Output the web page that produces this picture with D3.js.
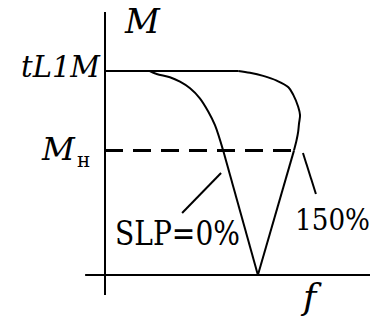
<!DOCTYPE html>
<html>
<head>
  <meta charset="UTF-8">
  <style>
    body { margin: 0; background: #fff; }
    svg { display: block; }
  </style>
</head>
<body>
<svg></svg>
<script src="https://cdn.jsdelivr.net/npm/d3@7"></script>
<script>

let width = 384, height = 322;
const serif = "'DejaVu Serif', 'Liberation Serif', serif";

// levels (normalised units, 0..100)
const tLimLevel = 77.6;
const ratedLevel = 47.3;
const vertexF = 57.7;

// SLP = 0% curve: rounded knee then straight leg down to the vertex
const slp0Curve = [
  [16.7, 77.6], [19.5, 76.4], [24.5, 75.2], [28.3, 73.5], [32.1, 71.0],
  [35.8, 67.2], [39.0, 62.1], [41.5, 57.0], [44.6, ratedLevel]
];
// SLP = 150% curve
const slp150Curve = [
  [50.3, 77.6], [54.7, 76.9], [59.7, 75.7], [64.8, 73.9], [69.2, 71.4],
  [71.1, 68.4], [72.9, 64.0], [73.6, 60.8], [73.2, 57.5], [72.9, 54.5],
  [72.3, 51.3], [71.3, ratedLevel]
];

// leader lines for the labels
const leaders = [
  [[43.8, 38.8], [29.1, 23.6]],
  [[74.7, 46.4], [79.6, 30.8]]
];

let svg = d3.select("svg")
    .attr("width", width)
    .attr("height", height);

let x = d3.scaleLinear().domain([0, 100]).range([105, 370]);
let y = d3.scaleLinear().domain([0, 100]).range([275, 12]);

let line = d3.line().x(d => x(d[0])).y(d => y(d[1]));
let smooth = d3.line().x(d => x(d[0])).y(d => y(d[1])).curve(d3.curveCatmullRom);

// axes
svg.append("line")
    .attr("x1", x(0)).attr("x2", x(0))
    .attr("y1", y(100)).attr("y2", y(-7.6))
    .attr("stroke", "#000").attr("stroke-width", 2);
svg.append("line")
    .attr("x1", x(-7.5)).attr("x2", x(100))
    .attr("y1", y(0)).attr("y2", y(0))
    .attr("stroke", "#000").attr("stroke-width", 2);

// tLIM level
svg.append("path")
    .attr("d", line([[0, tLimLevel], [slp150Curve[0][0], tLimLevel]]))
    .attr("fill", "none").attr("stroke", "#000").attr("stroke-width", 2);

// rated level, dashed
svg.append("path")
    .attr("d", line([[0, ratedLevel], [slp150Curve[slp150Curve.length - 1][0], ratedLevel]]))
    .attr("fill", "none").attr("stroke", "#000").attr("stroke-width", 3)
    .attr("stroke-dasharray", "18,10");

[slp0Curve, slp150Curve].forEach(c => {
  svg.append("path")
      .attr("d", smooth(c))
      .attr("fill", "none").attr("stroke", "#000").attr("stroke-width", 2);
  svg.append("path")
      .attr("d", line([c[c.length - 1], [vertexF, 0]]))
      .attr("fill", "none").attr("stroke", "#000").attr("stroke-width", 2);
});

leaders.forEach(l => {
  svg.append("path")
      .attr("d", line(l))
      .attr("fill", "none").attr("stroke", "#000").attr("stroke-width", 2);
});

// labels, squeezed to the widths of the original Times glyphs
function label(px, py, size, italic, str, len) {
  let t = svg.append("text").attr("x", px).attr("y", py)
      .attr("font-family", serif)
      .attr("font-size", size)
      .attr("font-style", italic ? "italic" : "normal")
      .attr("fill", "#000")
      .text(str);
  if (len) t.attr("textLength", len).attr("lengthAdjust", "spacingAndGlyphs");
  return t;
}

label(125, 33, 34, true, "M");
label(21, 77, 30, true, "tL1M", 79);

label(42, 160, 32, true, "M");
label(77, 167, 20, false, "н");

label(303, 309, 36, true, "f");
label(115, 245, 33, false, "SLP=0%", 125);
label(295, 230, 30, false, "150%", 75);

</script>
</body>
</html>
